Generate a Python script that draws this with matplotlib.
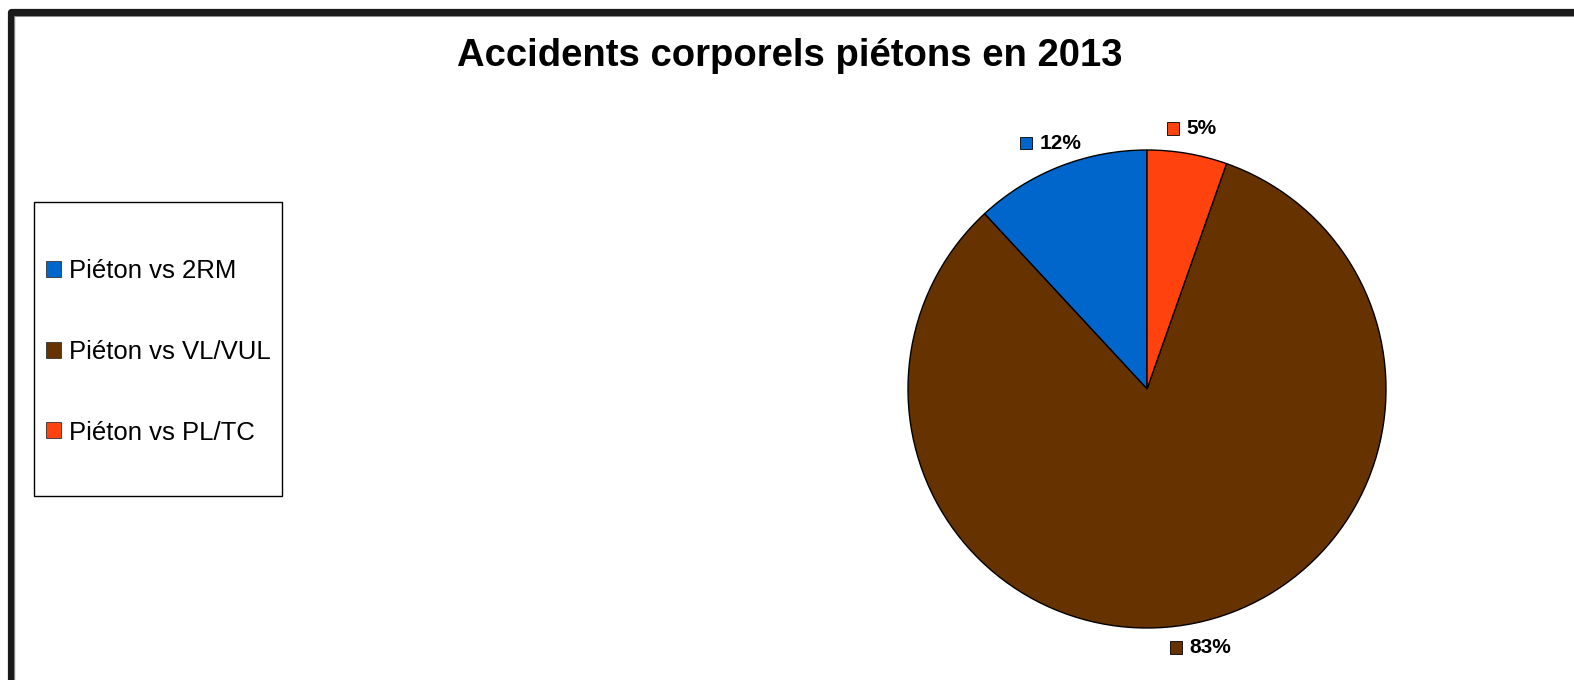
import matplotlib
matplotlib.use("Agg")
import matplotlib.pyplot as plt
import numpy as np
from matplotlib.patches import Patch, Rectangle
from matplotlib.lines import Line2D
from matplotlib.offsetbox import HPacker, DrawingArea, TextArea, AnnotationBbox

plt.rcParams['font.family'] = ['Liberation Sans', 'DejaVu Sans']

title = "Accidents corporels piétons en 2013"
categories = ["Piéton vs 2RM", "Piéton vs VL/VUL", "Piéton vs PL/TC"]
shares = [11.9, 82.7, 5.4]
colors = ["#0066CC", "#663300", "#FF420E"]

W, H = 1574, 680
fig = plt.figure(figsize=(W / 100, H / 100), dpi=100)
fig.patch.set_facecolor("white")

def fx(px):
    return px / W
def fy(py):
    return 1 - py / H

# frame border (left + top)
fig.add_artist(Line2D([fx(10.5), fx(10.5), fx(W + 20)], [fy(H + 20), fy(11.5), fy(11.5)],
                      transform=fig.transFigure, color="#1a1a1a", lw=5.2,
                      solid_joinstyle="round", solid_capstyle="butt"))
fig.add_artist(Line2D([fx(14.5), fx(14.5), fx(W + 20)], [fy(H + 20), fy(15.5), fy(15.5)],
                      transform=fig.transFigure, color="#888888", lw=0.7))

fig.text(fx(790), fy(56), title, ha="center", va="center", fontsize=27.5, fontweight="bold")

# pie
cx, cy, r = 1147, 389, 239
ax = fig.add_axes([fx(cx - r), fy(cy + r), 2 * r / W, 2 * r / H])
wedges, _ = ax.pie(shares, colors=colors, startangle=90, counterclock=True, radius=1,
                   wedgeprops=dict(edgecolor="black", linewidth=1.0))
ax.set_xlim(-1, 1)
ax.set_ylim(-1, 1)
ax.set_aspect("auto")
ax.axis("off")

for w, s, c in zip(wedges, shares, colors):
    mid = np.deg2rad((w.theta1 + w.theta2) / 2)
    x, y = 1.105 * np.cos(mid), 1.105 * np.sin(mid)
    da = DrawingArea(9, 9, 0, 0)
    da.add_artist(Rectangle((0, 0), 9, 9, facecolor=c, edgecolor="black", linewidth=0.6))
    ta = TextArea(f"{s:.0f}%", textprops=dict(fontsize=15, fontweight="bold"))
    pack = HPacker(children=[da, ta], align="center", pad=0, sep=5)
    ab = AnnotationBbox(pack, (x, y), xycoords="data", frameon=False, box_alignment=(0.5, 0.5),
                        annotation_clip=False)
    ax.add_artist(ab)

# legend
handles = [Patch(facecolor=c, edgecolor="#333333", linewidth=0.6) for c in colors]
leg = fig.legend(handles, categories, loc="center left",
                 bbox_to_anchor=(fx(41), fy(352)), frameon=False, fontsize=18.5,
                 handlelength=0.58, handleheight=0.58, handletextpad=0.3,
                 labelspacing=2.2, borderpad=0.2, borderaxespad=0)
fig.add_artist(Rectangle((fx(33.5), fy(495.5)), (281 - 33) / W, (495 - 201) / H,
                         transform=fig.transFigure, facecolor="none", edgecolor="black",
                         linewidth=1.0))

fig.savefig("out.png", dpi=100)
